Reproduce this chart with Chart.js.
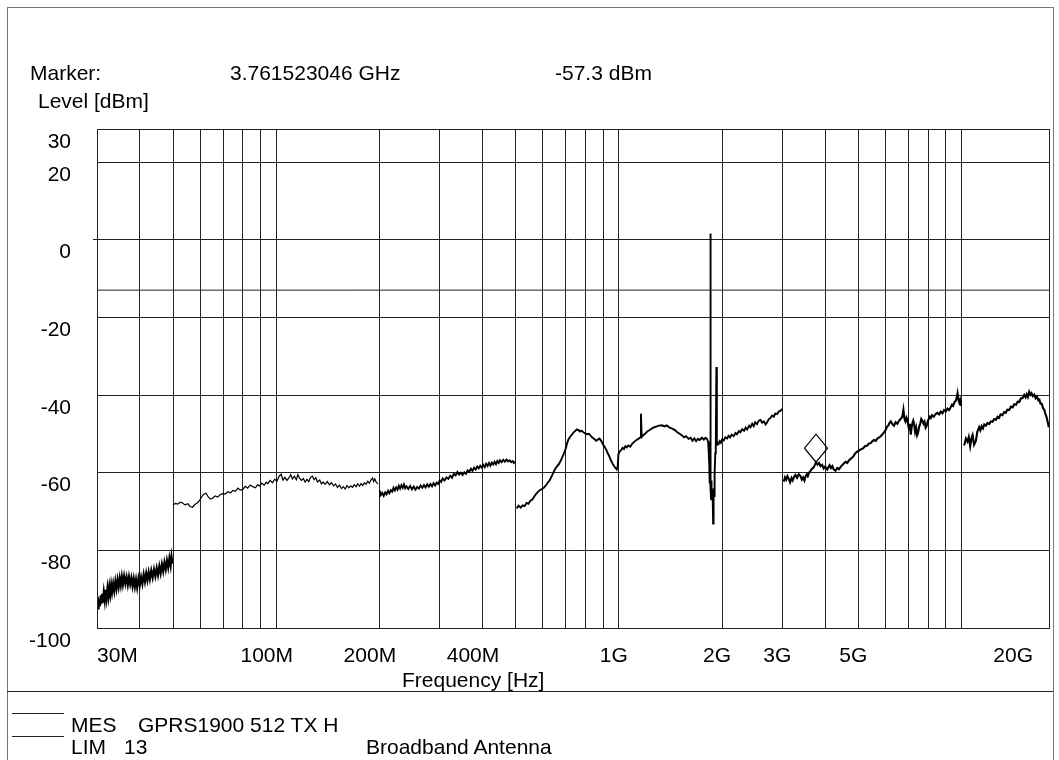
<!DOCTYPE html>
<html>
<head>
<meta charset="utf-8">
<script src="https://cdn.jsdelivr.net/npm/chart.js@4.4.1/dist/chart.umd.min.js"></script>
<style>
  body { margin: 0; background: #fff; }
  #wrap { position: relative; width: 1059px; height: 760px; overflow: hidden; font-family: "Liberation Sans", Arial, sans-serif; color: #000; }
  #chart { position: absolute; left: 0; top: 0; }
  .t { position: absolute; font-size: 21px; line-height: 22px; white-space: pre; }
  .frame { position: absolute; left: 7px; top: 7px; width: 1045px; height: 800px; border: 1px solid #777; }
  .sep { position: absolute; left: 7px; top: 691px; width: 1046px; border-top: 1px solid #222; }
  .key { position: absolute; left: 12px; width: 52px; border-top: 1px solid #222; }
</style>
</head>
<body>
<div id="wrap">
  <div class="frame"></div>
  <div class="sep"></div>
  <canvas id="chart" width="1059" height="760"></canvas>

  <div class="t" style="left:30px; top:62px;">Marker:</div>
  <div class="t" style="left:230px; top:62px;">3.761523046 GHz</div>
  <div class="t" style="left:555px; top:62px;">-57.3 dBm</div>
  <div class="t" style="left:38px; top:90px;">Level [dBm]</div>
  <div class="t" style="left:402px; top:669px;">Frequency [Hz]</div>

  <div class="key" style="top:713px;"></div>
  <div class="key" style="top:736px;"></div>
  <div class="t" style="left:71px; top:714px;">MES</div>
  <div class="t" style="left:138px; top:714px;">GPRS1900 512 TX H</div>
  <div class="t" style="left:71px; top:736px;">LIM</div>
  <div class="t" style="left:124px; top:736px;">13</div>
  <div class="t" style="left:366px; top:736px;">Broadband Antenna</div>
</div>

<script>
// frequencies in MHz, levels in dBm

// 30 MHz - 50 MHz
const seg1Freq = [30.0, 30.15, 30.3, 30.45, 30.6, 30.75, 30.9, 31.05, 31.2, 31.4, 31.6, 31.8, 32.0, 32.2, 32.4, 32.6, 32.8, 33.0, 33.2, 33.45, 33.7, 33.95, 34.2, 34.45, 34.7, 34.95, 35.2, 35.45, 35.7, 36.0, 36.3, 36.6, 36.9, 37.2, 37.5, 37.8, 38.1, 38.4, 38.7, 39.0, 39.3, 39.65, 40.0, 40.35, 40.7, 41.05, 41.4, 41.75, 42.1, 42.45, 42.8, 43.2, 43.6, 44.0, 44.4, 44.8, 45.2, 45.6, 46.0, 46.4, 46.8, 47.2, 47.6, 48.0, 48.4, 48.8, 49.2, 49.5, 49.8];
const seg1Level = [-94.8, -92.0, -95.2, -92.6, -94.4, -91.6, -93.8, -91.2, -93.5, -90.8, -92.9, -90.2, -92.4, -89.8, -91.9, -89.4, -91.3, -88.9, -90.8, -88.6, -90.5, -88.0, -89.9, -87.6, -89.4, -87.2, -89.0, -86.8, -88.8, -86.6, -88.6, -86.9, -88.9, -86.8, -88.7, -87.1, -89.2, -87.3, -89.4, -87.5, -89.6, -87.2, -89.0, -86.9, -88.6, -86.2, -88.1, -85.9, -87.7, -85.6, -87.4, -85.2, -87.0, -84.9, -86.7, -84.6, -86.4, -84.1, -85.9, -83.6, -85.4, -83.1, -84.9, -82.6, -84.4, -82.0, -84.0, -81.6, -83.4];

// 50 MHz - 200 MHz
const seg2Freq = [50.0, 50.8, 51.6, 52.5, 53.3, 54.2, 55.2, 56.1, 57.0, 57.9, 58.8, 59.7, 60.5, 61.3, 62.4, 63.3, 64.3, 65.3, 66.4, 67.5, 68.6, 69.8, 71.0, 72.3, 73.5, 74.7, 76.0, 77.3, 78.6, 79.9, 81.2, 82.5, 84.0, 85.5, 87.0, 88.2, 89.4, 90.8, 92.2, 93.5, 94.5, 96.0, 97.5, 99.0, 100.5, 102.0, 103.4, 104.7, 106.0, 107.5, 109.0, 110.3, 111.5, 113.0, 114.5, 115.7, 117.0, 118.5, 120.0, 121.5, 123.0, 124.5, 126.0, 127.5, 129.0, 130.5, 132.0, 134.0, 135.5, 137.0, 139.0, 141.0, 143.0, 145.0, 147.0, 149.0, 151.0, 153.0, 155.0, 157.0, 159.0, 161.0, 163.0, 165.0, 167.0, 169.0, 171.0, 173.0, 175.0, 177.0, 179.0, 181.0, 183.0, 185.0, 187.0, 189.0, 191.0, 192.5, 194.0, 196.0, 198.0];
const seg2Level = [-68.4, -67.9, -68.1, -67.6, -67.8, -68.3, -68.0, -68.7, -68.9, -68.2, -67.8, -67.2, -66.4, -65.6, -65.3, -66.2, -66.8, -66.5, -66.0, -66.3, -65.7, -65.4, -65.5, -64.9, -65.2, -64.6, -64.8, -64.0, -64.5, -64.3, -63.5, -64.0, -63.2, -63.6, -63.9, -63.1, -63.4, -62.7, -63.2, -62.5, -62.8, -62.0, -62.6, -61.7, -62.2, -60.9, -60.4, -61.9, -61.2, -62.0, -61.3, -60.5, -61.6, -60.9, -61.8, -60.5, -61.4, -62.0, -61.5, -62.4, -61.7, -62.3, -61.2, -60.9, -61.8, -61.3, -62.4, -61.9, -62.9, -62.4, -63.0, -62.3, -63.1, -62.6, -63.4, -62.9, -63.8, -63.2, -64.1, -63.6, -64.2, -63.3, -63.9, -63.4, -63.8, -63.1, -63.6, -62.9, -63.5, -62.8, -63.3, -62.6, -63.0, -62.2, -62.7, -61.9, -61.4, -62.3, -61.6, -62.5, -62.9];

// 200 MHz - 500 MHz
const seg3Freq = [200.5, 202, 204, 206, 208, 210, 212, 214, 216, 218, 220, 222, 224, 226, 228, 230, 232, 234, 236, 238, 240, 243, 246, 249, 252, 255, 258, 261, 264, 267, 270, 273, 276, 279, 282, 285, 288, 291, 294, 297, 300, 303, 306, 310, 314, 318, 322, 326, 330, 334, 338, 342, 346, 350, 354, 358, 362, 366, 370, 374, 378, 382, 386, 390, 394, 398, 402, 406, 410, 414, 418, 422, 426, 430, 434, 438, 442, 446, 450, 455, 460, 465, 470, 475, 480, 485, 490, 494, 498];
const seg3Level = [-64.6, -65.8, -65.2, -66.0, -65.1, -65.6, -64.7, -65.3, -64.5, -64.9, -63.9, -64.6, -63.8, -64.4, -63.4, -64.1, -63.2, -63.9, -63.0, -64.0, -63.5, -64.2, -63.4, -64.3, -63.6, -64.4, -63.7, -64.1, -63.3, -63.9, -63.2, -63.8, -63.0, -63.6, -62.9, -63.5, -62.7, -63.3, -62.6, -62.9, -62.0, -62.4, -61.5, -62.0, -61.2, -61.6, -60.8, -61.3, -60.3, -60.7, -59.8, -60.5, -60.0, -60.6, -59.9, -60.3, -59.4, -59.8, -59.0, -59.5, -58.7, -59.2, -58.4, -58.9, -58.2, -58.7, -58.0, -58.6, -57.7, -58.3, -57.5, -58.2, -57.4, -57.9, -57.2, -57.8, -57.0, -57.5, -56.8, -57.3, -56.7, -57.2, -56.6, -57.1, -56.8, -57.3, -57.0, -57.5, -57.2];

// 500 MHz - 3 GHz
const seg4Freq = [503, 510, 517, 524, 531, 538, 545, 552, 559, 566, 573, 580, 588, 596, 604, 612, 620, 628, 636, 644, 652, 660, 668, 676, 684, 692, 700, 706, 712, 720, 728, 737, 745, 753, 762, 770, 778, 788, 798, 808, 818, 828, 838, 848, 858, 868, 878, 888, 898, 908, 918, 928, 938, 948, 958, 968, 978, 986, 992, 997, 1005, 1015, 1025, 1035, 1045, 1055, 1065, 1079, 1095, 1110, 1125, 1140, 1154, 1160, 1166, 1180, 1195, 1210, 1230, 1250, 1270, 1290, 1310, 1336, 1360, 1380, 1400, 1420, 1440, 1461, 1480, 1500, 1529, 1550, 1570, 1598, 1620, 1640, 1660, 1680, 1700, 1720, 1748, 1770, 1790, 1808, 1822, 1830, 1836, 1841, 1846, 1850, 1854, 1858, 1862, 1866, 1871, 1876, 1880, 1884, 1888, 1892, 1896, 1900, 1906, 1912, 1918, 1926, 1932, 1940, 1956, 1970, 1985, 2000, 2023, 2045, 2070, 2090, 2110, 2135, 2163, 2190, 2210, 2240, 2263, 2290, 2320, 2345, 2368, 2400, 2421, 2450, 2475, 2500, 2530, 2560, 2589, 2620, 2650, 2680, 2708, 2740, 2770, 2800, 2831, 2860, 2900, 2930, 2962, 2995];
const seg4Level = [-69.2, -68.5, -69.0, -68.4, -68.6, -67.8, -68.0, -67.2, -66.9, -66.2, -65.5, -65.0, -64.5, -64.2, -63.9, -63.3, -62.6, -62.0, -61.0, -60.0, -59.0, -58.4, -57.8, -57.0, -56.0, -55.0, -53.8, -52.5, -51.5, -50.8, -50.3, -49.7, -49.3, -48.9, -49.0, -49.4, -49.2, -49.6, -49.9, -50.1, -50.0, -50.5, -51.0, -51.3, -51.8, -51.5, -51.2, -51.8, -52.6, -53.3, -54.0, -55.0, -55.8, -56.8, -57.6, -58.3, -58.8, -59.2, -58.5, -55.3, -54.6, -54.2, -53.6, -53.9, -53.2, -53.5, -53.0, -53.3, -52.5, -52.0, -51.6, -51.3, -50.9, -44.8, -50.8, -50.3, -49.9, -49.4, -49.0, -48.6, -48.3, -48.1, -47.9, -47.8, -48.1, -47.8, -48.3, -48.5, -48.8, -49.1, -49.6, -49.9, -50.4, -50.9, -50.6, -51.3, -51.0, -51.8, -51.2, -51.9, -51.3, -51.6, -51.0, -51.5, -51.0, -51.3, -52.0, -55.1, -58.0, -62.8, -60.5, 1.6, -64.5, -66.8, -62.0, -66.5, -64.5, -67.5, -65.0, -73.1, -66.5, -64.0, -66.0, -62.5, -60.0, -55.0, -53.5, -32.8, -53.0, -52.2, -52.6, -51.9, -52.3, -51.5, -51.7, -50.9, -51.2, -50.5, -50.9, -50.2, -50.6, -49.8, -50.1, -49.3, -49.6, -48.8, -49.2, -48.4, -48.9, -47.9, -48.3, -47.4, -48.0, -47.0, -47.5, -46.6, -46.4, -47.1, -46.8, -47.6, -47.0, -46.2, -45.9, -45.3, -45.6, -44.8, -44.9, -44.2, -44.1, -43.6];

// 3 GHz - 10 GHz
const seg5Freq = [3029, 3055, 3080, 3105, 3133, 3160, 3190, 3215, 3240, 3275, 3310, 3350, 3389, 3420, 3450, 3480, 3505, 3535, 3560, 3595, 3625, 3660, 3690, 3720, 3761.5, 3800, 3840, 3878, 3920, 3960, 4000, 4057, 4090, 4120, 4160, 4196, 4240, 4290, 4340, 4386, 4440, 4490, 4540, 4588, 4640, 4700, 4750, 4801, 4850, 4900, 4960, 5019, 5080, 5150, 5230, 5311, 5370, 5430, 5490, 5553, 5620, 5680, 5740, 5808, 5870, 5940, 6007, 6060, 6110, 6160, 6213, 6280, 6350, 6420, 6500, 6560, 6620, 6680, 6723, 6768, 6810, 6860, 6910, 6952, 6990, 7030, 7070, 7110, 7150, 7190, 7230, 7269, 7320, 7370, 7420, 7467, 7520, 7580, 7630, 7691, 7750, 7800, 7860, 7916, 7970, 8020, 8080, 8132, 8200, 8300, 8400, 8508, 8600, 8700, 8800, 8895, 9000, 9100, 9200, 9305, 9380, 9450, 9530, 9623, 9690, 9734, 9790, 9850, 9900, 9950];
const seg5Level = [-62.3, -61.2, -61.8, -60.9, -61.6, -62.5, -61.4, -62.0, -61.2, -60.6, -61.3, -60.4, -60.9, -61.8, -61.2, -62.0, -61.0, -60.4, -60.9, -59.9, -59.6, -59.0, -58.8, -58.3, -57.3, -57.9, -57.5, -58.3, -58.0, -58.9, -58.4, -59.2, -58.6, -58.1, -58.8, -58.3, -59.2, -59.5, -58.8, -59.1, -58.5, -58.0, -57.6, -57.2, -57.5, -56.8, -56.4, -56.1, -55.6, -55.0, -54.6, -54.3, -54.0, -53.8, -53.2, -53.0, -52.5, -52.4, -51.9, -51.6, -51.8, -51.2, -51.0, -50.6, -50.2, -49.6, -49.0, -48.2, -47.9, -47.2, -46.8, -47.5, -47.9, -47.0, -47.4, -46.7, -46.3, -45.9, -45.4, -43.8, -46.0, -46.8, -45.8, -46.3, -47.8, -48.9, -47.4, -50.2, -48.4, -47.2, -46.6, -47.4, -49.5, -48.4, -50.4, -49.8, -48.2, -47.3, -46.2, -46.7, -47.4, -46.9, -48.4, -47.9, -46.8, -46.2, -45.6, -45.9, -45.2, -45.6, -44.9, -44.6, -45.0, -44.3, -44.7, -43.9, -44.2, -43.5, -43.9, -43.1, -42.5, -42.8, -41.9, -41.5, -40.6, -39.6, -41.2, -41.9, -41.3, -42.8];

// 10 GHz - 18 GHz
const seg6Freq = [10180, 10300, 10410, 10500, 10600, 10700, 10770, 10880, 11010, 11120, 11260, 11350, 11450, 11550, 11650, 11780, 11900, 12040, 12180, 12320, 12450, 12600, 12740, 12870, 13000, 13160, 13320, 13460, 13600, 13770, 13940, 14100, 14250, 14420, 14580, 14740, 14900, 15070, 15240, 15380, 15500, 15620, 15760, 15880, 16000, 16150, 16310, 16450, 16600, 16740, 16870, 17000, 17150, 17300, 17440, 17580, 17700, 17850, 17980];
const seg6Level = [-53.0, -51.2, -52.0, -50.8, -53.2, -51.0, -50.3, -52.8, -51.8, -49.5, -48.3, -49.1, -48.0, -48.6, -47.6, -47.9, -47.2, -47.5, -46.8, -46.9, -46.2, -46.4, -45.6, -45.9, -45.0, -45.2, -44.4, -44.6, -43.8, -43.9, -43.0, -43.2, -42.4, -42.5, -41.7, -41.8, -40.9, -40.8, -40.0, -40.6, -39.8, -40.5, -39.2, -39.9, -39.5, -40.3, -39.9, -40.8, -40.4, -41.3, -41.2, -42.2, -42.3, -43.4, -43.8, -45.0, -45.6, -47.0, -48.3];

// limit line
const limitFreq = [30, 18000];
const limitLevel = [-13, -13];

// marker
const markerFreq = 3761.523046;
const markerLevel = -57.3;

// axes
const xMin = 30, xMax = 18000;
const xGrid = [30, 40, 50, 60, 70, 80, 90, 100, 200, 300, 400, 500, 600, 700, 800, 900, 1000, 2000, 3000, 4000, 5000, 6000, 7000, 8000, 9000, 10000];
const xLabelValues = [30, 100, 200, 400, 1000, 2000, 3000, 5000, 20000];
const xLabelTexts = ['30M', '100M', '200M', '400M', '1G', '2G', '3G', '5G', '20G'];
const yMin = -100, yMax = 28.5;
const yTicks = [-100, -80, -60, -40, -20, 0, 20];
const yTopLabel = '30';

const FONT = '"Liberation Sans", Arial, sans-serif';
const LINE = '#222';

function pts(f, l) {
  return f.map((v, i) => ({ x: v, y: l[i] }));
}

function trace(f, l, w) {
  return {
    data: pts(f, l),
    borderColor: '#000',
    borderWidth: w,
    pointRadius: 0,
    tension: 0,
  };
}

// box, x labels and marker
const extras = {
  id: 'extras',
  afterDraw(chart) {
    const { ctx, chartArea, scales } = chart;
    const xs = scales.x, ys = scales.y;
    ctx.save();
    ctx.strokeStyle = LINE;
    ctx.lineWidth = 1;
    ctx.strokeRect(Math.round(chartArea.left) + 0.5, Math.round(chartArea.top) + 0.5,
      Math.round(chartArea.right - chartArea.left), Math.round(chartArea.bottom - chartArea.top));

    ctx.font = '21px ' + FONT;
    ctx.fillStyle = '#000';
    ctx.textBaseline = 'middle';
    ctx.textAlign = 'left';
    xLabelValues.forEach((v, i) => {
      const w = ctx.measureText(xLabelTexts[i]).width;
      let left = xs.getPixelForValue(v) - 0.68 * w;
      if (left < chartArea.left) left = chartArea.left;
      if (left + w > chartArea.right - 16) left = chartArea.right - 16 - w;
      ctx.fillText(xLabelTexts[i], left, 656);
    });

    const px = xs.getPixelForValue(markerFreq);
    const py = ys.getPixelForValue(markerLevel);
    ctx.beginPath();
    ctx.moveTo(px, py);
    ctx.lineTo(px + 11.5, py - 14);
    ctx.lineTo(px, py - 28);
    ctx.lineTo(px - 11.5, py - 14);
    ctx.closePath();
    ctx.lineWidth = 1.2;
    ctx.strokeStyle = '#000';
    ctx.stroke();
    ctx.restore();
  }
};

new Chart(document.getElementById('chart'), {
  type: 'line',
  data: {
    datasets: [
      {
        data: pts(limitFreq, limitLevel),
        borderColor: LINE,
        borderWidth: 1,
        pointRadius: 0,
      },
      trace(seg1Freq, seg1Level, 2.2),
      trace(seg2Freq, seg2Level, 1.2),
      trace(seg3Freq, seg3Level, 1.9),
      trace(seg4Freq, seg4Level, 1.9),
      trace(seg5Freq, seg5Level, 2.1),
      trace(seg6Freq, seg6Level, 2.1),
    ]
  },
  options: {
    responsive: false,
    animation: false,
    devicePixelRatio: 1,
    layout: { padding: { left: 0, right: 10, top: 129, bottom: 0 } },
    plugins: { legend: { display: false }, tooltip: { enabled: false } },
    scales: {
      x: {
        type: 'logarithmic',
        min: xMin,
        max: xMax,
        afterBuildTicks: (scale) => { scale.ticks = xGrid.map(v => ({ value: v })); },
        afterFit: (scale) => { scale.height = 132; },
        ticks: { display: false },
        grid: { color: LINE, lineWidth: 1, drawTicks: false },
        border: { display: true, color: LINE, width: 1 },
      },
      y: {
        type: 'linear',
        min: yMin,
        max: yMax,
        afterBuildTicks: (scale) => { scale.ticks = yTicks.concat([yMax]).map(v => ({ value: v })); },
        afterFit: (scale) => { scale.width = 97; },
        ticks: {
          color: '#000',
          font: { family: FONT, size: 21 },
          padding: 22,
          labelOffset: 13,
          callback: (v) => (v === yMax ? yTopLabel : String(v)),
        },
        grid: {
          color: LINE,
          lineWidth: 1,
          drawTicks: true,
          tickLength: 4,
          tickColor: (c) => (c.tick && c.tick.value === 0 ? LINE : 'rgba(0,0,0,0)'),
        },
        border: { display: true, color: LINE, width: 1 },
      }
    }
  },
  plugins: [extras]
});
</script>
</body>
</html>
